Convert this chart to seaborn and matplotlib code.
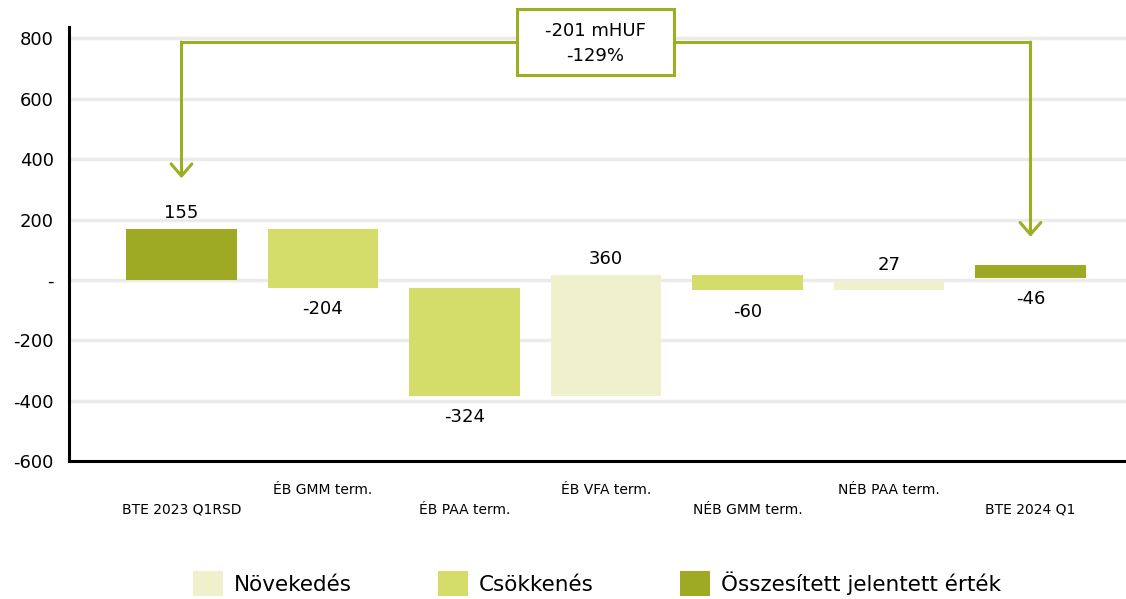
import matplotlib
matplotlib.use("Agg")
import matplotlib.pyplot as plt
from matplotlib.patches import Patch, Rectangle
import seaborn as sns
import pandas as pd

# ---- data ----
categories = ["BTE 2023 Q1RSD", "ÉB GMM term.", "ÉB PAA term.", "ÉB VFA term.",
              "NÉB GMM term.", "NÉB PAA term.", "BTE 2024 Q1"]
value_labels = [155, -204, -324, 360, -60, 27, -46]
bar_top = [169, 169, -26, 17, 17, -4, 50]
bar_bottom = [0, -26, -384, -384, -35, -35, 8]
kinds = ["Összesített jelentett érték", "Csökkenés", "Csökkenés", "Növekedés",
         "Csökkenés", "Növekedés", "Összesített jelentett érték"]
legend_order = ["Növekedés", "Csökkenés", "Összesített jelentett érték"]
y_ticks = [-600, -400, -200, 0, 200, 400, 600, 800]
y_tick_labels = ["-600", "-400", "-200", "-", "200", "400", "600", "800"]
summary_lines = ["-201 mHUF", "-129%"]

colors = {"Növekedés": "#EEF1CC", "Csökkenés": "#D4DC6A",
          "Összesített jelentett érték": "#9EA924"}
accent = "#9DAE22"

df = pd.DataFrame({"cat": categories, "top": bar_top, "bottom": bar_bottom,
                   "kind": kinds, "label": value_labels})
df["height"] = df["top"] - df["bottom"]

sns.set_style("white")
plt.rcParams["font.family"] = ["DejaVu Sans"]
plt.rcParams.update({"text.color": "black", "xtick.color": "black",
                     "ytick.color": "black", "axes.labelcolor": "black"})

fig = plt.figure(figsize=(11.26, 5.99), dpi=100)
ax = fig.add_axes([69 / 1126, 138 / 599, (1126 - 69) / 1126, 434 / 599])

for k in legend_order:
    sub = df[df["kind"] == k]
    sns.barplot(data=sub, x="cat", y="height", order=categories, ax=ax,
                color=colors[k], saturation=1, errorbar=None, width=0.784,
                bottom=sub["bottom"].to_numpy(), linewidth=0, zorder=3)

ax.set_xlabel("")
ax.set_ylabel("")
ax.set_xlim(-0.795, 6.675)
ax.set_ylim(-600, 838)

# y axis
ax.set_yticks(y_ticks, labels=y_tick_labels)
ax.tick_params(axis="y", length=0, pad=11, labelsize=13)
ax.yaxis.grid(True, color="#EBEBEB", linewidth=2.5, zorder=0)
ax.set_axisbelow(True)

# x axis: staggered labels via major/minor ticks
idx = list(range(len(categories)))
ax.set_xticks(idx[0::2], labels=categories[0::2])
ax.set_xticks(idx[1::2], labels=categories[1::2], minor=True)
ax.tick_params(axis="x", which="major", length=0, pad=30, labelsize=10)
ax.tick_params(axis="x", which="minor", length=0, pad=15.5, labelsize=10)

for s in ["top", "right"]:
    ax.spines[s].set_visible(False)
for s in ["left", "bottom"]:
    ax.spines[s].set_color("black")
    ax.spines[s].set_linewidth(2.2)

# value labels
for i, row in df.iterrows():
    if row["label"] >= 0:
        ax.annotate(str(row["label"]), (i, row["top"]), xytext=(0, 5),
                    textcoords="offset points", ha="center", va="bottom", fontsize=13)
    else:
        ax.annotate(str(row["label"]), (i, row["bottom"]), xytext=(0, -9),
                    textcoords="offset points", ha="center", va="top", fontsize=13)

# bracket with arrows
y_line = 788
ax.plot([0, 6], [y_line, y_line], color=accent, lw=2.2, clip_on=False, zorder=4,
        solid_capstyle="projecting")
for x0, tip in [(0, 337), (6, 143)]:
    ax.annotate("", xy=(x0, tip), xytext=(x0, y_line),
                arrowprops=dict(arrowstyle="->,head_length=0.86,head_width=0.75",
                                color=accent, lw=2.2, shrinkA=0, shrinkB=0,
                                mutation_scale=10),
                annotation_clip=False, zorder=4)

box = Rectangle((2.371, 678), 1.109, 218, facecolor="white", edgecolor=accent,
                lw=2.2, clip_on=False, zorder=5)
ax.add_patch(box)
ax.text(2.925, 824, summary_lines[0], ha="center", va="center", fontsize=13, zorder=6)
ax.text(2.925, 741, summary_lines[1], ha="center", va="center", fontsize=13, zorder=6)

# legend
handles = [Patch(facecolor=colors[k], edgecolor="none", label=k) for k in legend_order]
fig.legend(handles=handles, loc="center", bbox_to_anchor=(597 / 1126, 1 - 583.5 / 599),
           ncol=3, frameon=False, fontsize=15.5, handlelength=1.4, handleheight=1.4,
           handletextpad=0.5, columnspacing=4.0, borderaxespad=0)

fig.savefig("out.png", dpi=100)
